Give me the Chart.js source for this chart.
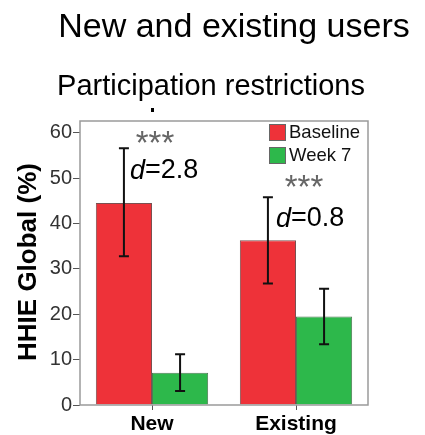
<!DOCTYPE html>
<html>
<head>
<meta charset="utf-8">
<script src="https://cdn.jsdelivr.net/npm/chart.js@4"></script>
<style>
  html, body { margin: 0; padding: 0; background: #fff; }
  #wrap { width: 425px; height: 435px; position: relative; }
</style>
</head>
<body>
<div id="wrap"><canvas id="c" width="425" height="435"></canvas></div>
<script>
// Data
const groups = ['New', 'Existing'];
const seriesNames = ['Baseline', 'Week 7'];
const baseline = [44.5, 36.3];
const baseLow = [32.8, 26.8];
const baseHigh = [56.6, 45.8];
const week7 = [7.1, 19.5];
const weekLow = [3.1, 13.4];
const weekHigh = [11.2, 25.6];
const stars = ['***', '***'];
const effects = ['2.8', '0.8'];
const yTicks = [0, 10, 20, 30, 40, 50, 60];

const RED = '#ee3239';
const GREEN = '#2db84b';
const FONT = '"Liberation Sans", Arial, sans-serif';

// draws error bars, annotations, titles, legend and the plot frame
const extras = {
    id: 'extras',
    afterDatasetsDraw(chart) {
        const ctx = chart.ctx;
        const y = chart.scales.y;
        const area = chart.chartArea;
        const lows = [baseLow, weekLow];
        const highs = [baseHigh, weekHigh];

        // error bars
        ctx.save();
        ctx.strokeStyle = '#111';
        ctx.lineWidth = 2;
        [0, 1].forEach(ds => {
            chart.getDatasetMeta(ds).data.forEach((bar, i) => {
                const yl = y.getPixelForValue(lows[ds][i]);
                const yh = y.getPixelForValue(highs[ds][i]);
                ctx.beginPath();
                ctx.moveTo(bar.x, yl); ctx.lineTo(bar.x, yh);
                ctx.moveTo(bar.x - 5, yl); ctx.lineTo(bar.x + 5, yl);
                ctx.moveTo(bar.x - 5, yh); ctx.lineTo(bar.x + 5, yh);
                ctx.stroke();
            });
        });
        ctx.restore();

        // frame
        ctx.save();
        ctx.strokeStyle = '#9a9a9a';
        ctx.lineWidth = 1.5;
        ctx.strokeRect(area.left, area.top, area.right - area.left, area.bottom - area.top);
        ctx.restore();

        // significance + effect size
        const starPos = [[155, 145], [304, 189]];
        const dPos = [[130, 171], [276, 219]];
        ctx.save();
        ctx.textBaseline = 'middle';
        stars.forEach((s, i) => {
            ctx.fillStyle = '#666';
            ctx.font = '33px ' + FONT;
            ctx.textAlign = 'center';
            ctx.fillText(s, starPos[i][0], starPos[i][1]);
            ctx.fillStyle = '#000';
            ctx.textAlign = 'left';
            ctx.font = 'italic 27px ' + FONT;
            ctx.fillText('d', dPos[i][0], dPos[i][1]);
            const w = ctx.measureText('d').width;
            ctx.font = '27px ' + FONT;
            ctx.fillText('=' + effects[i], dPos[i][0] + w, dPos[i][1]);
        });
        ctx.restore();

        // legend
        ctx.save();
        const colors = [RED, GREEN];
        seriesNames.forEach((n, i) => {
            const ly = 124 + i * 23;
            ctx.fillStyle = colors[i];
            ctx.fillRect(269, ly, 17, 17);
            ctx.strokeStyle = '#666';
            ctx.lineWidth = 1;
            ctx.strokeRect(269.5, ly + 0.5, 16, 16);
            ctx.fillStyle = '#111';
            ctx.font = '18.5px ' + FONT;
            ctx.textAlign = 'left';
            ctx.textBaseline = 'middle';
            ctx.fillText(n, 289, ly + 9);
        });
        ctx.restore();

        // titles
        ctx.save();
        ctx.fillStyle = '#000';
        ctx.textAlign = 'center';
        ctx.textBaseline = 'alphabetic';
        ctx.font = '34px ' + FONT;
        ctx.fillText('New and existing users', 234, 37);
        ctx.font = '29px ' + FONT;
        ctx.fillText('Participation restrictions', 211, 95);
        ctx.fillRect(151, 108, 3, 4);
        // y axis title
        ctx.translate(29, 262);
        ctx.rotate(-Math.PI / 2);
        ctx.font = 'bold 26px ' + FONT;
        ctx.textBaseline = 'middle';
        ctx.fillText('HHIE Global (%)', 0, 0);
        ctx.restore();
    }
};

new Chart(document.getElementById('c'), {
    type: 'bar',
    data: {
        labels: groups,
        datasets: [
            { label: seriesNames[0], data: baseline, backgroundColor: RED, borderColor: '#7a5050', borderWidth: 1 },
            { label: seriesNames[1], data: week7, backgroundColor: GREEN, borderColor: '#4f7a55', borderWidth: 1 }
        ]
    },
    options: {
        responsive: false,
        animation: false,
        events: [],
        layout: { padding: { left: 0, right: 57, top: 121, bottom: 0 } },
        plugins: { legend: { display: false }, title: { display: false }, tooltip: { enabled: false } },
        datasets: { bar: { categoryPercentage: 0.78, barPercentage: 1 } },
        scales: {
            x: {
                grid: { drawOnChartArea: false, offset: false, tickLength: 5, color: '#555' },
                border: { display: false },
                ticks: { color: '#000', font: { family: FONT, size: 21, weight: 'bold' }, padding: 2 },
                afterFit: s => { s.height = 30; }
            },
            y: {
                min: 0,
                max: 62.6,
                afterBuildTicks: s => { s.ticks = yTicks.map(v => ({ value: v })); },
                grid: { drawOnChartArea: false, tickLength: 7, color: '#555' },
                border: { display: false },
                ticks: { color: '#333', font: { family: FONT, size: 20 }, padding: 1 },
                afterFit: s => { s.width = 80; }
            }
        }
    },
    plugins: [extras]
});
</script>
</body>
</html>
